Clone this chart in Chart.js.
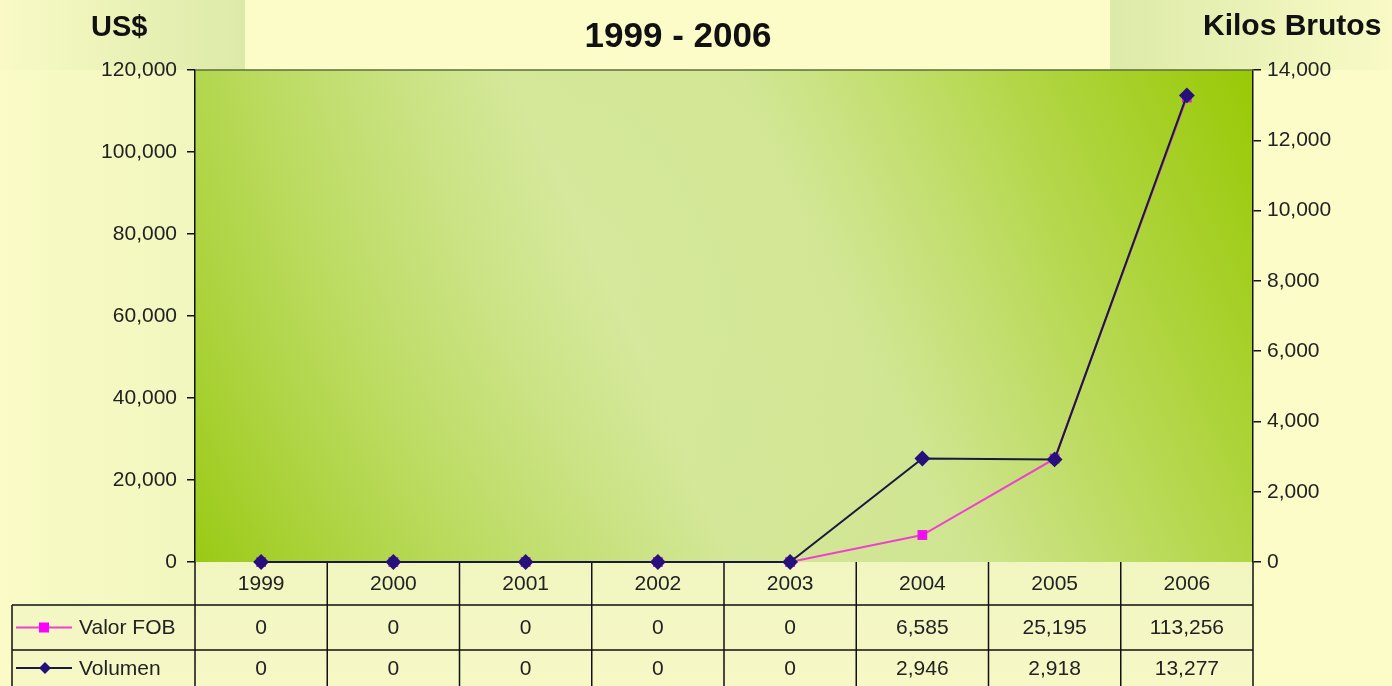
<!DOCTYPE html>
<html>
<head>
<meta charset="utf-8">
<script src="https://cdn.jsdelivr.net/npm/chart.js@4.4.1/dist/chart.umd.min.js"></script>
<style>
html,body{margin:0;padding:0;background:#FCFCC9;}
#wrap{width:1392px;height:686px;}
</style>
</head>
<body>
<div id="wrap"><canvas id="c" width="1392" height="686"></canvas></div>
<script>
const categories = ['1999','2000','2001','2002','2003','2004','2005','2006'];
const valorFOB = [0, 0, 0, 0, 0, 6585, 25195, 113256];
const volumen = [0, 0, 0, 0, 0, 2946, 2918, 13277];
const seriesNames = ['Valor FOB', 'Volumen'];
const titleText = '1999 - 2006';
const leftAxisTitle = 'US$';
const rightAxisTitle = 'Kilos Brutos';

const FONT = '"Liberation Sans", Arial, sans-serif';
const fmt = v => v.toLocaleString('en-US');

function tableRows(chart) {
  const a = chart.chartArea;
  return { rowTop: a.bottom, r1: a.bottom + 43, r2: a.bottom + 88, r3: chart.height, legLeft: 12 };
}

const bgPlugin = {
  id: 'bg',
  beforeDraw(chart) {
    const ctx = chart.ctx, W = chart.width, H = chart.height, a = chart.chartArea;
    ctx.save();
    ctx.fillStyle = '#FCFCC9';
    ctx.fillRect(0, 0, W, H);
    let g = ctx.createLinearGradient(0, 0, 200, 0);
    g.addColorStop(0, '#FAFBC6');
    g.addColorStop(1, '#F1F6BE');
    ctx.fillStyle = g;
    ctx.fillRect(0, 0, 200, H);
    g = ctx.createLinearGradient(0, 0, 245, 0);
    g.addColorStop(0, '#F9FAC6');
    g.addColorStop(1, '#DCEAA8');
    ctx.fillStyle = g;
    ctx.fillRect(0, 0, 245, a.top);
    g = ctx.createLinearGradient(1110, 0, 1392, 0);
    g.addColorStop(0, '#DCEAA8');
    g.addColorStop(1, '#F9FAC6');
    ctx.fillStyle = g;
    ctx.fillRect(1110, 0, 282, a.top);
    // plot area gradient
    g = ctx.createLinearGradient(a.left, a.bottom, a.right, a.top);
    g.addColorStop(0, '#98C910');
    g.addColorStop(0.42, '#D2E696');
    g.addColorStop(0.6, '#D0E591');
    g.addColorStop(1, '#98C905');
    ctx.fillStyle = g;
    ctx.fillRect(a.left, a.top, a.right - a.left, a.bottom - a.top);
    const rg = ctx.createRadialGradient(560, 280, 20, 560, 280, 500);
    rg.addColorStop(0, 'rgba(222,238,170,0.3)');
    rg.addColorStop(1, 'rgba(222,238,170,0)');
    ctx.fillStyle = rg;
    ctx.fillRect(a.left, a.top, a.right - a.left, a.bottom - a.top);
    // table background
    const t = tableRows(chart);
    g = ctx.createLinearGradient(0, t.rowTop, 0, t.r3);
    g.addColorStop(0, '#F1F6C0');
    g.addColorStop(1, '#F6F8C6');
    ctx.fillStyle = g;
    ctx.fillRect(a.left, t.rowTop, a.right - a.left, t.r3 - t.rowTop);
    ctx.fillRect(t.legLeft, t.r1, a.left - t.legLeft, t.r3 - t.r1);
    // titles
    ctx.fillStyle = '#111';
    ctx.textBaseline = 'alphabetic';
    ctx.font = 'bold 35px ' + FONT;
    ctx.textAlign = 'center';
    ctx.fillText(titleText, 678, 47);
    ctx.font = 'bold 29px ' + FONT;
    ctx.textAlign = 'left';
    ctx.fillText(leftAxisTitle, 91, 36);
    ctx.font = 'bold 30px ' + FONT;
    ctx.fillText(rightAxisTitle, 1203, 35);
    ctx.restore();
  },
  beforeDatasetsDraw(chart) {
    const ctx = chart.ctx, a = chart.chartArea, x = chart.scales.x;
    ctx.save();
    ctx.strokeStyle = '#5E6E3A';
    ctx.lineWidth = 1.5;
    ctx.beginPath();
    ctx.moveTo(a.left, a.top);
    ctx.lineTo(a.right, a.top);
    ctx.stroke();
    // table grid and text
    const n = categories.length;
    const colW = (a.right - a.left) / n;
    const t = tableRows(chart);
    ctx.strokeStyle = '#111';
    ctx.lineWidth = 1.5;
    ctx.beginPath();
    for (let i = 0; i <= n; i++) {
      const xx = a.left + i * colW;
      ctx.moveTo(xx, t.rowTop);
      ctx.lineTo(xx, t.r3);
    }
    ctx.moveTo(t.legLeft, t.r1); ctx.lineTo(a.right, t.r1);
    ctx.moveTo(t.legLeft, t.r2); ctx.lineTo(a.right, t.r2);
    ctx.moveTo(t.legLeft, t.r1); ctx.lineTo(t.legLeft, t.r3);
    ctx.stroke();
    ctx.fillStyle = '#222';
    ctx.font = '21px ' + FONT;
    ctx.textAlign = 'center';
    ctx.textBaseline = 'middle';
    categories.forEach((c, i) => {
      const cx = x.getPixelForValue(i);
      ctx.fillText(c, cx, (t.rowTop + t.r1) / 2 + 1);
      ctx.fillText(fmt(valorFOB[i]), cx, (t.r1 + t.r2) / 2 + 1);
      ctx.fillText(fmt(volumen[i]), cx, (t.r2 + t.r3) / 2 + 1);
    });
    const ds = chart.data.datasets;
    const rows = [[ds[0], (t.r1 + t.r2) / 2], [ds[1], (t.r2 + t.r3) / 2]];
    rows.forEach(([d, cy]) => {
      ctx.strokeStyle = d.borderColor;
      ctx.lineWidth = 1.8;
      ctx.beginPath();
      ctx.moveTo(16, cy); ctx.lineTo(72, cy);
      ctx.stroke();
      ctx.fillStyle = d.pointBackgroundColor;
      if (d.pointStyle === 'rect') {
        ctx.fillRect(39, cy - 5, 10, 10);
      } else {
        ctx.beginPath();
        ctx.moveTo(45, cy - 6); ctx.lineTo(51, cy); ctx.lineTo(45, cy + 6); ctx.lineTo(39, cy);
        ctx.closePath(); ctx.fill();
      }
      ctx.fillStyle = '#222';
      ctx.textAlign = 'left';
      ctx.fillText(d.label, 79, cy + 1);
    });
    ctx.restore();
  }
};

new Chart(document.getElementById('c'), {
  type: 'line',
  data: {
    labels: categories,
    datasets: [
      {
        label: seriesNames[0],
        data: valorFOB,
        yAxisID: 'y',
        borderColor: '#F040D0',
        backgroundColor: '#FF00FF',
        pointBackgroundColor: '#FF00FF',
        pointBorderColor: '#E020E0',
        pointStyle: 'rect',
        pointRadius: 5.5,
        borderWidth: 2,
        tension: 0,
        clip: false,
        order: 2
      },
      {
        label: seriesNames[1],
        data: volumen,
        yAxisID: 'y1',
        borderColor: '#1A1A40',
        backgroundColor: '#1A0A80',
        pointBackgroundColor: '#26107A',
        pointBorderColor: '#26107A',
        pointStyle: 'rectRot',
        pointRadius: 6.5,
        borderWidth: 2,
        tension: 0,
        clip: false,
        order: 1
      }
    ]
  },
  options: {
    responsive: false,
    devicePixelRatio: 1,
    animation: false,
    layout: { padding: { left: 0, right: 0, top: 70, bottom: 124 } },
    plugins: { legend: { display: false }, tooltip: { enabled: false }, title: { display: false } },
    scales: {
      x: { display: false, offset: true },
      y: {
        position: 'left',
        min: 0, max: 120000,
        ticks: { stepSize: 20000, color: '#222', font: { family: FONT, size: 21 }, padding: 10,
                 callback: v => fmt(v) },
        grid: { drawOnChartArea: false, drawTicks: true, tickLength: 8, color: '#111', lineWidth: 1.5 },
        border: { display: true, color: '#111', width: 1.5 },
        afterFit(s) { s.width = 195; }
      },
      y1: {
        position: 'right',
        min: 0, max: 14000,
        ticks: { stepSize: 2000, color: '#222', font: { family: FONT, size: 21 }, padding: 6,
                 callback: v => fmt(v) },
        grid: { drawOnChartArea: false, drawTicks: true, tickLength: 8, color: '#111', lineWidth: 1.5 },
        border: { display: true, color: '#111', width: 1.5 },
        afterFit(s) { s.width = 139; }
      }
    }
  },
  plugins: [bgPlugin]
});
</script>
</body>
</html>
